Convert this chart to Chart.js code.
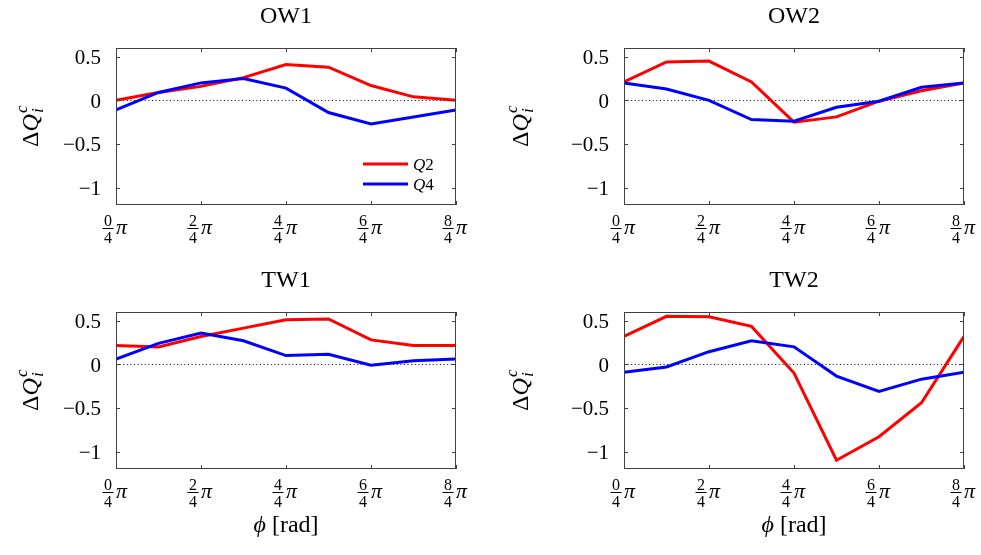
<!DOCTYPE html>
<html>
<head>
<meta charset="utf-8">
<script src="https://cdn.jsdelivr.net/npm/chart.js@4.4.1/dist/chart.umd.min.js"></script>
<style>
  body { margin: 0; background: #fff; width: 981px; height: 555px; position: relative; overflow: hidden; }
  canvas { position: absolute; }
</style>
</head>
<body>
<canvas id="ow1" width="490" height="260" style="left:0;top:0"></canvas>
<canvas id="ow2" width="491" height="260" style="left:490px;top:0"></canvas>
<canvas id="tw1" width="490" height="295" style="left:0;top:260px"></canvas>
<canvas id="tw2" width="491" height="295" style="left:490px;top:260px"></canvas>
<script>
// phase steps in units of pi/4
const PHASE_STEPS = [0, 1, 2, 3, 4, 5, 6, 7, 8];
const X_TICKS = [0, 2, 4, 6, 8];
const X_TICK_NUMERATORS = ["0", "2", "4", "6", "8"];
const X_TICK_DENOMINATOR = "4";
const Y_TICKS = [-1, -0.5, 0, 0.5];

const OW1_Q2 = [0.0, 0.09, 0.16, 0.26, 0.41, 0.38, 0.17, 0.04, 0.0];
const OW1_Q4 = [-0.11, 0.09, 0.2, 0.25, 0.14, -0.14, -0.27, -0.19, -0.11];
const OW2_Q2 = [0.21, 0.44, 0.45, 0.21, -0.25, -0.19, -0.01, 0.11, 0.2];
const OW2_Q4 = [0.2, 0.13, 0.0, -0.22, -0.24, -0.08, -0.01, 0.15, 0.2];
const TW1_Q2 = [0.215, 0.2, 0.32, 0.415, 0.51, 0.52, 0.28, 0.215, 0.215];
const TW1_Q4 = [0.06, 0.24, 0.36, 0.27, 0.1, 0.115, -0.01, 0.04, 0.06];
const TW2_Q2 = [0.32, 0.55, 0.545, 0.435, -0.1, -1.1, -0.83, -0.44, 0.32];
const TW2_Q4 = [-0.09, -0.03, 0.145, 0.27, 0.2, -0.135, -0.31, -0.17, -0.09];

const SERIF = '"Liberation Serif", "Times New Roman", serif';
const FRAME = "#404040";

function fmtTick(v) {
  if (v === 0) return "0";
  return (v < 0 ? "\u2212" : "") + Math.abs(v);
}

/* dotted zero line, frame, inner ticks, fraction labels, titles, legend */
const panelDecor = {
  id: "panelDecor",
  beforeDatasetsDraw(chart) {
    const { ctx, chartArea: a } = chart;
    const y0 = Math.round(chart.scales.y.getPixelForValue(0)) + 0.5;
    ctx.save();
    ctx.strokeStyle = "#000";
    ctx.lineWidth = 1;
    ctx.setLineDash([1, 2.6]);
    ctx.beginPath();
    ctx.moveTo(a.left, y0);
    ctx.lineTo(a.right, y0);
    ctx.stroke();
    ctx.restore();
  },
  afterDraw(chart, args, opts) {
    const { ctx, chartArea: a, scales: { x, y } } = chart;
    const cx = (a.left + a.right) / 2;
    ctx.save();

    // frame + ticks
    ctx.strokeStyle = FRAME;
    ctx.lineWidth = 1;
    ctx.strokeRect(a.left + 0.5, a.top + 0.5, a.right - a.left - 1, a.bottom - a.top - 1);
    ctx.beginPath();
    X_TICKS.forEach((v) => {
      const px = Math.round(x.getPixelForValue(v)) + 0.5;
      ctx.moveTo(px, a.bottom); ctx.lineTo(px, a.bottom - 4);
      ctx.moveTo(px, a.top); ctx.lineTo(px, a.top + 4);
    });
    Y_TICKS.forEach((v) => {
      const py = Math.round(y.getPixelForValue(v)) + 0.5;
      ctx.moveTo(a.left, py); ctx.lineTo(a.left + 4, py);
      ctx.moveTo(a.right, py); ctx.lineTo(a.right - 4, py);
    });
    ctx.stroke();

    // x tick labels as fractions  n/4 pi
    ctx.fillStyle = "#000";
    X_TICKS.forEach((v, i) => {
      const px = x.getPixelForValue(v);
      const fx = px - 8;
      ctx.font = "16px " + SERIF;
      ctx.textAlign = "center";
      ctx.textBaseline = "alphabetic";
      ctx.fillText(X_TICK_NUMERATORS[i], fx, a.bottom + 21);
      ctx.fillText(X_TICK_DENOMINATOR, fx, a.bottom + 38);
      ctx.fillRect(fx - 5.5, a.bottom + 23, 11, 1);
      ctx.font = "italic 22px " + SERIF;
      ctx.textAlign = "left";
      ctx.fillText("\u03C0", px, a.bottom + 29);
    });

    // title
    ctx.font = "24px " + SERIF;
    ctx.textAlign = "center";
    ctx.fillText(opts.title, cx, a.top - 25);

    // y axis label  ΔQ_i^c
    ctx.save();
    ctx.translate(38, (a.top + a.bottom) / 2);
    ctx.rotate(-Math.PI / 2);
    ctx.textAlign = "left";
    ctx.font = "24px " + SERIF;
    const wD = ctx.measureText("\u0394").width;
    ctx.font = "italic 24px " + SERIF;
    const wQ = ctx.measureText("Q").width;
    const total = wD + wQ + 8;
    let tx = -total / 2;
    ctx.font = "24px " + SERIF;
    ctx.fillText("\u0394", tx, 0);
    tx += wD;
    ctx.font = "italic 24px " + SERIF;
    ctx.fillText("Q", tx, 0);
    tx += wQ + 1;
    ctx.font = "italic 17px " + SERIF;
    ctx.fillText("c", tx, -11);
    ctx.fillText("i", tx, 5);
    ctx.restore();

    // x axis label
    if (opts.xLabel) {
      ctx.font = "italic 24px " + SERIF;
      const wp = ctx.measureText("\u03D5").width;
      ctx.font = "24px " + SERIF;
      const wr = ctx.measureText(" [rad]").width;
      let lx = cx - (wp + wr) / 2;
      ctx.textAlign = "left";
      ctx.font = "italic 24px " + SERIF;
      ctx.fillText("\u03D5", lx, a.bottom + 63);
      ctx.font = "24px " + SERIF;
      ctx.fillText(" [rad]", lx + wp, a.bottom + 63);
    }

    // legend
    if (opts.legend) {
      chart.data.datasets.forEach((ds, i) => {
        const ly = a.top + 116 + i * 20;
        ctx.strokeStyle = ds.borderColor;
        ctx.lineWidth = 3;
        ctx.beginPath();
        ctx.moveTo(a.right - 93, ly);
        ctx.lineTo(a.right - 48, ly);
        ctx.stroke();
        ctx.font = "italic 17px " + SERIF;
        ctx.textAlign = "left";
        ctx.fillText(ds.label[0], a.right - 43, ly + 6);
        const wq = ctx.measureText(ds.label[0]).width;
        ctx.font = "17px " + SERIF;
        ctx.fillText(ds.label.slice(1), a.right - 43 + wq, ly + 6);
      });
    }
    ctx.restore();
  },
};

function series(values) {
  return PHASE_STEPS.map((p, i) => ({ x: p, y: values[i] }));
}

function makePanel(id, title, q2, q4, box, extra) {
  const cv = document.getElementById(id);
  return new Chart(cv, {
    type: "line",
    data: {
      datasets: [
        { label: "Q2", data: series(q2), borderColor: "#ff0000", borderWidth: 3, pointRadius: 0, tension: 0, order: 2 },
        { label: "Q4", data: series(q4), borderColor: "#0000ff", borderWidth: 3, pointRadius: 0, tension: 0, order: 1 },
      ],
    },
    options: {
      responsive: false,
      animation: false,
      events: [],
      layout: { padding: { left: 0, top: box.top, right: cv.width - box.right, bottom: cv.height - box.bottom } },
      plugins: {
        legend: { display: false },
        tooltip: { enabled: false },
        panelDecor: Object.assign({ title }, extra),
      },
      scales: {
        x: {
          type: "linear", min: 0, max: 8,
          grid: { display: false }, border: { display: false },
          ticks: { display: false },
          afterFit: (s) => { s.height = 0; },
        },
        y: {
          min: -1.2, max: 0.6,
          afterBuildTicks: (s) => { s.ticks = Y_TICKS.map((v) => ({ value: v })); },
          grid: { display: false, drawTicks: false }, border: { display: false },
          ticks: { color: "#000", font: { family: SERIF, size: 21 }, padding: 15, labelOffset: 2, callback: fmtTick },
          afterFit: (s) => { s.width = box.left; },
        },
      },
    },
    plugins: [panelDecor],
  });
}

makePanel("ow1", "OW1", OW1_Q2, OW1_Q4, { left: 116, right: 456, top: 48, bottom: 205 }, { legend: true });
makePanel("ow2", "OW2", OW2_Q2, OW2_Q4, { left: 134, right: 474, top: 48, bottom: 205 }, {});
makePanel("tw1", "TW1", TW1_Q2, TW1_Q4, { left: 116, right: 456, top: 52, bottom: 209 }, { xLabel: true });
makePanel("tw2", "TW2", TW2_Q2, TW2_Q4, { left: 134, right: 474, top: 52, bottom: 209 }, { xLabel: true });
</script>
</body>
</html>
